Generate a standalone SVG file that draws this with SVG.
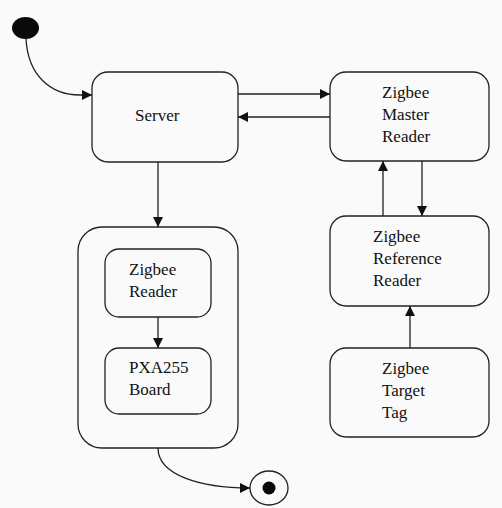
<svg xmlns="http://www.w3.org/2000/svg" width="502" height="508" viewBox="0 0 502 508">
<style>
.box{fill:none;stroke:#222;stroke-width:1.3}
.ln{fill:none;stroke:#222;stroke-width:1.3}
.t{font-family:'Liberation Serif','Times New Roman','DejaVu Serif',serif;font-size:17px;fill:#111}
</style>
<defs>
<marker id="arr" viewBox="0 0 10 10" refX="10" refY="5" markerWidth="10" markerHeight="10" markerUnits="userSpaceOnUse" orient="auto">
<path d="M0,0 L10,5 L0,10 Z" fill="#111"/>
</marker>
</defs>
<rect x="0" y="0" width="502" height="508" fill="#fafafa"/>
<g id="start"><ellipse cx="25.5" cy="28" rx="13.5" ry="11" fill="#0a0a0a"/></g>
<g id="end"><ellipse cx="269" cy="488" rx="19" ry="17" fill="none" stroke="#222" stroke-width="1.3"/><circle cx="269" cy="488" r="6.5" fill="#0a0a0a"/></g>
<g id="server"><rect class="box" x="92" y="72" width="146" height="90" rx="16"/><text class="t" x="135" y="121">Server</text></g>
<g id="master"><rect class="box" x="330" y="72" width="159" height="89" rx="16"/><text class="t" x="382" y="98">Zigbee</text><text class="t" x="382" y="120">Master</text><text class="t" x="382" y="142">Reader</text></g>
<g id="reference"><rect class="box" x="330" y="216" width="159" height="90" rx="16"/><text class="t" x="373" y="242">Zigbee</text><text class="t" x="373" y="264">Reference</text><text class="t" x="373" y="286">Reader</text></g>
<g id="target"><rect class="box" x="330" y="348" width="159" height="89" rx="16"/><text class="t" x="382" y="374">Zigbee</text><text class="t" x="382" y="396">Target</text><text class="t" x="382" y="418">Tag</text></g>
<g id="container"><rect class="box" x="78" y="227" width="160" height="221" rx="24"/></g>
<g id="zreader"><rect class="box" x="105" y="249" width="106" height="68" rx="14"/><text class="t" x="129" y="275">Zigbee</text><text class="t" x="129" y="297">Reader</text></g>
<g id="pxa"><rect class="box" x="105" y="348" width="106" height="66" rx="14"/><text class="t" x="129" y="373">PXA255</text><text class="t" x="129" y="395">Board</text></g>
<g id="connectors">
<path class="ln" d="M26,39 C28,75 50,95 80,95 L92,95" marker-end="url(#arr)"/>
<path class="ln" d="M238,94 L330,94" marker-end="url(#arr)"/>
<path class="ln" d="M330,117 L238,117" marker-end="url(#arr)"/>
<path class="ln" d="M158,162 L158,227" marker-end="url(#arr)"/>
<path class="ln" d="M158,317 L158,348" marker-end="url(#arr)"/>
<path class="ln" d="M383,216 L383,161" marker-end="url(#arr)"/>
<path class="ln" d="M422,161 L422,216" marker-end="url(#arr)"/>
<path class="ln" d="M410,348 L410,306" marker-end="url(#arr)"/>
<path class="ln" d="M158,448 C158,475 200,488 250,488" marker-end="url(#arr)"/>
</g>
</svg>
